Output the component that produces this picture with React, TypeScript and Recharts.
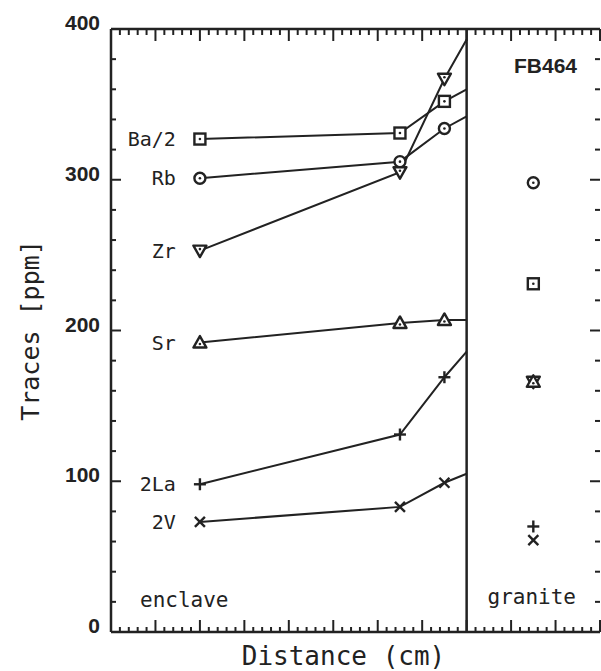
import React from 'react';
import { ComposedChart, Line, XAxis, YAxis, ReferenceLine, ReferenceArea } from 'recharts';

const INK = '#222';
const MONO = '"DejaVu Sans Mono", monospace';
const SANS = '"Liberation Sans", Arial, sans-serif';

// distance positions (major tick units); last enclave point is where the line meets the contact
const enclaveX = [2, 6.5, 7.5, 8];
const graniteX = 9.5;

const seriesNames = ['Ba/2', 'Rb', 'Zr', 'Sr', '2La', '2V'];
const seriesShapes = ['square', 'circle', 'down', 'up', 'plus', 'cross'];
const ba2 = [327, 331, 352, 360];
const rb = [301, 312, 334, 342];
const zr = [253, 305, 367, 393];
const sr = [192, 205, 207, 207];
const la2 = [98, 131, 169, 186];
const v2 = [73, 83, 99, 105];
const enclaveValues = [ba2, rb, zr, sr, la2, v2];
const graniteValues = [231, 298, 166, 166, 70, 61];

const xTicks = Array.from({ length: 56 }, (_, i) => Math.round(i * 20) / 100);
const yTicks = Array.from({ length: 21 }, (_, i) => i * 20);

const isMajorX = (v: number) => Math.abs(v - Math.round(v)) < 1e-6;

function Marker({ cx, cy, shape }: { cx: number; cy: number; shape: string }) {
  const s = 5.5;
  const common = { stroke: INK, strokeWidth: 2.4, fill: 'white' };
  switch (shape) {
    case 'square':
      return (
        <g>
          <rect x={cx - s} y={cy - s} width={2 * s} height={2 * s} {...common} />
          <circle cx={cx} cy={cy} r={1.3} fill={INK} />
        </g>
      );
    case 'circle':
      return (
        <g>
          <circle cx={cx} cy={cy} r={s} {...common} />
          <circle cx={cx} cy={cy} r={1.3} fill={INK} />
        </g>
      );
    case 'down':
      return (
        <g>
          <path d={`M${cx - 6.5},${cy - 5} L${cx + 6.5},${cy - 5} L${cx},${cy + 6.5} Z`} {...common} strokeLinejoin="round" />
          <circle cx={cx} cy={cy - 1.5} r={1.3} fill={INK} />
        </g>
      );
    case 'up':
      return (
        <g>
          <path d={`M${cx - 6.5},${cy + 5} L${cx + 6.5},${cy + 5} L${cx},${cy - 6.5} Z`} {...common} strokeLinejoin="round" />
          <circle cx={cx} cy={cy + 1.5} r={1.3} fill={INK} />
        </g>
      );
    case 'plus':
      return (
        <g stroke={INK} strokeWidth={2.4}>
          <line x1={cx - 6} x2={cx + 6} y1={cy} y2={cy} />
          <line x1={cx} x2={cx} y1={cy - 6} y2={cy + 6} />
        </g>
      );
    default:
      return (
        <g stroke={INK} strokeWidth={2.4}>
          <line x1={cx - 5} x2={cx + 5} y1={cy - 5} y2={cy + 5} />
          <line x1={cx - 5} x2={cx + 5} y1={cy + 5} y2={cy - 5} />
        </g>
      );
  }
}

const enclaveDot = (shape: string, name: string, lastIndex: number) => (props: any) => {
  const { cx, cy, index } = props;
  if (index === lastIndex || cx == null || cy == null) return <g key={`d-${name}-${index}`} />;
  return (
    <g key={`d-${name}-${index}`}>
      <Marker cx={cx} cy={cy} shape={shape} />
      {index === 0 && (
        <text x={cx - 24} y={cy} dy="0.36em" textAnchor="end" fontFamily={MONO} fontSize={20} fill={INK}>
          {name}
        </text>
      )}
    </g>
  );
};

const graniteDot = (shape: string, name: string) => (props: any) => {
  const { cx, cy } = props;
  if (cx == null || cy == null) return <g key={`g-${name}`} />;
  return <Marker key={`g-${name}`} cx={cx} cy={cy} shape={shape} />;
};

const LeftTick = ({ x, y, payload }: any) => {
  const v = payload.value;
  const major = v % 100 === 0;
  return (
    <g>
      <line x1={x} x2={x + (major ? 10 : 5)} y1={y} y2={y} stroke={INK} strokeWidth={2} />
      {major && (
        <text x={x - 11} y={y + 1} textAnchor="end" fontFamily={SANS} fontWeight={700} fontSize={21} fill={INK}>
          {v}
        </text>
      )}
    </g>
  );
};

const RightTick = ({ x, y, payload }: any) => {
  const major = payload.value % 100 === 0;
  return <line x1={x} x2={x - (major ? 10 : 5)} y1={y} y2={y} stroke={INK} strokeWidth={2} />;
};

const BottomTick = ({ x, y, payload }: any) => {
  const major = isMajorX(payload.value);
  return <line x1={x} x2={x} y1={y} y2={y - (major ? 12 : 5)} stroke={INK} strokeWidth={2} />;
};

const TopTick = ({ x, y, payload }: any) => {
  const major = isMajorX(payload.value);
  return <line x1={x} x2={x} y1={y} y2={y + (major ? 12 : 6)} stroke={INK} strokeWidth={2} />;
};

const cornerLabel = (text: string, dx: number, dy: number, anchor: 'start' | 'end', font: string, size: number, weight = 400) =>
  (props: any) => {
    const vb = props.viewBox || {};
    const x = anchor === 'start' ? vb.x + dx : vb.x + vb.width - dx;
    const y = dy > 0 ? vb.y + dy : vb.y + vb.height + dy;
    return (
      <text x={x} y={y} textAnchor={anchor} fontFamily={font} fontSize={size} fontWeight={weight} fill={INK}>
        {text}
      </text>
    );
  };

const xTitle = (props: any) => {
  const vb = props.viewBox || {};
  const x = vb.x + vb.width / 2 - 12;
  return (
    <text x={x} y={vb.y + 33} textAnchor="middle" fontFamily={MONO} fontSize={26} fill={INK}>
      Distance (cm)
    </text>
  );
};

const yTitle = (props: any) => {
  const vb = props.viewBox || {};
  const x = vb.x - 80;
  const y = vb.y + vb.height / 2;
  return (
    <text
      x={x}
      y={y}
      transform={`rotate(-90, ${x}, ${y})`}
      textAnchor="middle"
      dominantBaseline="central"
      fontFamily={MONO}
      fontSize={25}
      fill={INK}
    >
      Traces [ppm]
    </text>
  );
};

export default function App() {
  const lastIndex = enclaveX.length - 1;
  return (
    <div style={{ position: 'absolute', left: 0, top: 0, width: 601, height: 671, background: '#fff' }}>
      <ComposedChart width={601} height={671} margin={{ top: 28, right: 0, bottom: 38, left: 110 }}>
        <XAxis
          xAxisId="b"
          type="number"
          dataKey="x"
          domain={[0, 11]}
          ticks={xTicks}
          interval={0}
          height={1}
          tickSize={0}
          tickMargin={0}
          tick={<BottomTick />}
          axisLine={{ stroke: INK, strokeWidth: 2.5 }}
          tickLine={false}
          allowDataOverflow
          label={xTitle}
        />
        <XAxis
          xAxisId="t"
          orientation="top"
          type="number"
          dataKey="x"
          domain={[0, 11]}
          ticks={xTicks}
          interval={0}
          height={1}
          tickSize={0}
          tickMargin={0}
          tick={<TopTick />}
          axisLine={{ stroke: INK, strokeWidth: 2.5 }}
          tickLine={false}
          allowDataOverflow
        />
        <YAxis
          yAxisId="l"
          type="number"
          domain={[0, 400]}
          ticks={yTicks}
          interval={0}
          width={1}
          tickSize={0}
          tickMargin={0}
          tick={<LeftTick />}
          axisLine={{ stroke: INK, strokeWidth: 2.5 }}
          tickLine={false}
          allowDataOverflow
          label={yTitle}
        />
        <YAxis
          yAxisId="r"
          orientation="right"
          type="number"
          domain={[0, 400]}
          ticks={yTicks}
          interval={0}
          width={1}
          tickSize={0}
          tickMargin={0}
          tick={<RightTick />}
          axisLine={false}
          tickLine={false}
          allowDataOverflow
        />

        <ReferenceArea
          xAxisId="b"
          yAxisId="l"
          x1={0}
          x2={8}
          y1={0}
          y2={400}
          fill="none"
          stroke="none"
          label={cornerLabel('enclave', 29, -25, 'start', MONO, 21)}
        />
        <ReferenceArea
          xAxisId="b"
          yAxisId="l"
          x1={8}
          x2={11}
          y1={0}
          y2={400}
          fill="none"
          stroke="none"
          label={cornerLabel('granite', 24, -28, 'end', MONO, 21)}
        />
        <ReferenceArea
          xAxisId="b"
          yAxisId="l"
          x1={8}
          x2={11}
          y1={0}
          y2={400}
          fill="none"
          stroke="none"
          label={cornerLabel('FB464', 23, 44, 'end', SANS, 21, 700)}
        />
        <ReferenceLine xAxisId="b" yAxisId="l" x={8} stroke={INK} strokeWidth={2.5} />

        {enclaveValues.map((vals, si) => (
          <Line
            key={`e-${seriesNames[si]}`}
            xAxisId="b"
            yAxisId="l"
            data={enclaveX.map((x, i) => ({ x, y: vals[i] }))}
            dataKey="y"
            type="linear"
            stroke={INK}
            strokeWidth={2}
            dot={enclaveDot(seriesShapes[si], seriesNames[si], lastIndex)}
            activeDot={false}
            isAnimationActive={false}
          />
        ))}
        {graniteValues.map((v, si) => (
          <Line
            key={`g-${seriesNames[si]}`}
            xAxisId="b"
            yAxisId="l"
            data={[{ x: graniteX, y: v }]}
            dataKey="y"
            type="linear"
            stroke="none"
            dot={graniteDot(seriesShapes[si], seriesNames[si])}
            activeDot={false}
            isAnimationActive={false}
          />
        ))}
      </ComposedChart>
    </div>
  );
}
